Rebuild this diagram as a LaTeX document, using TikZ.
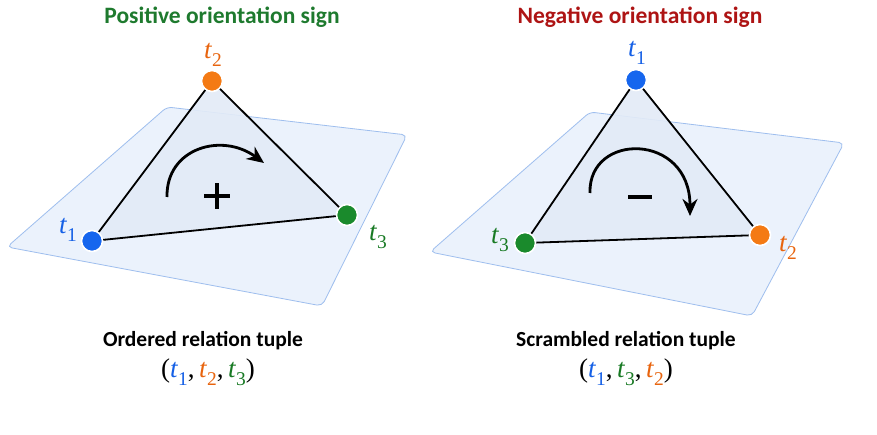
\documentclass[tikz,border=0pt]{standalone}
\usepackage{fontspec}
\setmainfont{Carlito}
\newfontfamily\tfont{Liberation Serif}
\usetikzlibrary{arrows.meta}
\definecolor{cblue}{HTML}{1666EE}
\definecolor{corange}{HTML}{F47A14}
\definecolor{cgreen}{HTML}{1A8A2C}
\definecolor{lblue}{HTML}{1560E6}
\definecolor{lorange}{HTML}{E8640E}
\definecolor{lgreen}{HTML}{187A24}
\definecolor{tgreen}{HTML}{1E7A2E}
\definecolor{tred}{HTML}{AE1414}
\definecolor{planefill}{HTML}{EBF2FC}
\definecolor{planeedge}{HTML}{9EBEEE}
\definecolor{trifill}{HTML}{E3EBF7}
\newcommand{\tv}[1]{{\itshape t}\kern0.5pt\raisebox{-0.28em}{\scalebox{0.72}{#1}}}
\begin{document}
\begin{tikzpicture}[x=1pt,y=-1pt,
  plane/.style={fill=planefill,draw=planeedge,line width=0.8pt,rounded corners=5pt},
  tri/.style={fill=trifill,fill opacity=0.9},
  vert/.style={circle,minimum size=21pt,inner sep=0pt,draw=white,line width=1.6pt},
  edge/.style={line width=1.8pt,black},
  lab/.style={inner sep=0pt,font=\fontsize{27}{27}\selectfont\tfont},
  title/.style={font=\fontsize{23.5}{27}\selectfont\bfseries},
  caption/.style={font=\fontsize{21.5}{25}\selectfont\bfseries},
  tuple/.style={font=\fontsize{27}{30}\selectfont\tfont},
  orient/.style={line width=2.8pt,-{Stealth[length=17pt,width=15pt]}},
  sign/.style={line width=3.2pt}]
\useasboundingbox[fill=white] (0,0) rectangle (877,435);

% ---------- left panel ----------
\node[title,text=tgreen] (titleL) at (222,17) {Positive orientation sign};
\draw[plane] (167,107) -- (407,135) -- (322,306) -- (7,247) -- cycle;
\coordinate (A1) at (92,241);
\coordinate (A2) at (212,81);
\coordinate (A3) at (347,215);
\fill[tri] (A1) -- (A2) -- (A3) -- cycle;
\node[vert,fill=cblue] (L1) at (A1) {};
\node[vert,fill=corange] (L2) at (A2) {};
\node[vert,fill=cgreen] (L3) at (A3) {};
\draw[edge] (L1) -- (L2);
\draw[edge] (L2) -- (L3);
\draw[edge] (L3) -- (L1);
\node[lab,text=lblue] (L1lab) at (68,230) {\tv{1}};
\node[lab,text=lorange] (L2lab) at (213,55) {\tv{2}};
\node[lab,text=lgreen] (L3lab) at (378,237) {\tv{3}};
\coordinate (AS) at (167,197);
\coordinate (AE) at (264,163);
\draw[orient] (AS) .. controls (166,148) and (222,132) .. (AE);
\coordinate (PC) at (217,196);
\draw[sign] ([xshift=-13pt]PC) -- ([xshift=13pt]PC);
\draw[sign] ([yshift=-13pt]PC) -- ([yshift=13pt]PC);
\node[caption] (capL) at (203,341) {Ordered relation tuple};
\node[tuple] (tupL) at (208,372) {(\textcolor{lblue}{\tv{1}},\,\textcolor{lorange}{\tv{2}},\,\textcolor{lgreen}{\tv{3}})};

% ---------- right panel ----------
\node[title,text=tred] (titleR) at (640,17) {Negative orientation sign};
\draw[plane] (590,112) -- (844,143) -- (752,316) -- (430,252) -- cycle;
\coordinate (B1) at (636,80);
\coordinate (B3) at (525,243);
\coordinate (B2) at (760,235);
\fill[tri] (B1) -- (B2) -- (B3) -- cycle;
\node[vert,fill=cblue] (R1) at (B1) {};
\node[vert,fill=corange] (R2) at (B2) {};
\node[vert,fill=cgreen] (R3) at (B3) {};
\draw[edge] (R1) -- (R2);
\draw[edge] (R2) -- (R3);
\draw[edge] (R3) -- (R1);
\node[lab,text=lblue] (R1lab) at (637,53) {\tv{1}};
\node[lab,text=lgreen] (R3lab) at (500,240) {\tv{3}};
\node[lab,text=lorange] (R2lab) at (788,248) {\tv{2}};
\coordinate (BS) at (590,193);
\coordinate (BE) at (690,216);
\draw[orient] (BS) .. controls (588,132) and (690,132) .. (BE);
\coordinate (MC) at (640,197);
\draw[sign] ([xshift=-12pt]MC) -- ([xshift=12pt]MC);
\node[caption] (capR) at (626,341) {Scrambled relation tuple};
\node[tuple] (tupR) at (626,372) {(\textcolor{lblue}{\tv{1}},\,\textcolor{lgreen}{\tv{3}},\,\textcolor{lorange}{\tv{2}})};
\end{tikzpicture}
\end{document}
